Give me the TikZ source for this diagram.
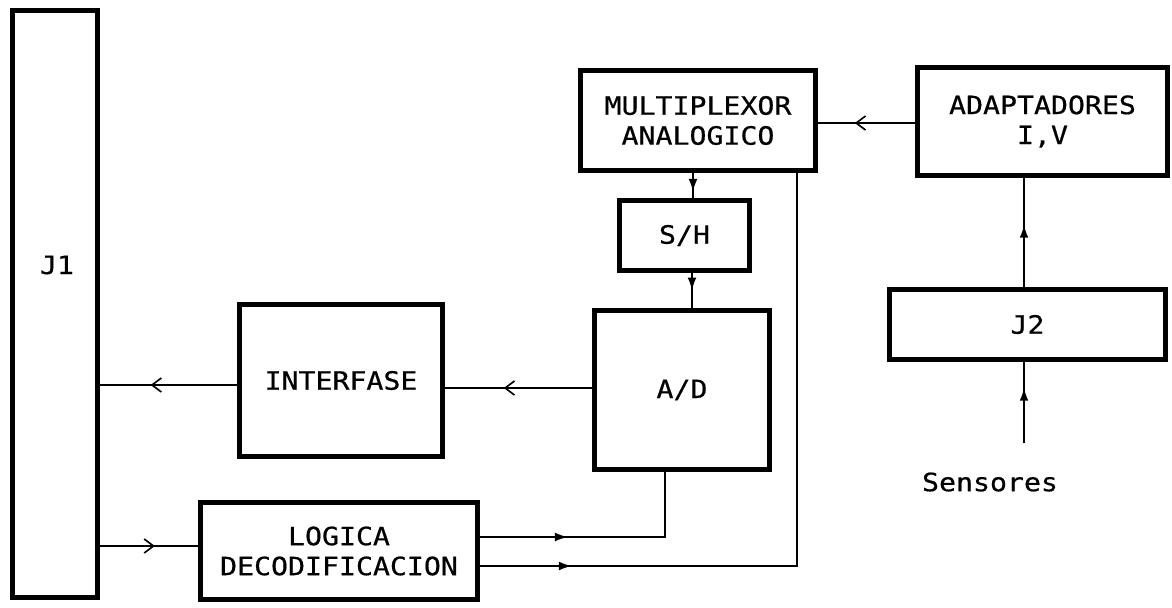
\documentclass[tikz,border=0pt]{standalone}
\usepackage{fontspec}
\newfontfamily\plotfont[FakeStretch=1.12, FakeBold=0.6]{DejaVu Sans Mono}
\usetikzlibrary{arrows.meta}
\usetikzlibrary{decorations.markings}

\begin{document}
\begin{tikzpicture}[x=0.03cm, y=-0.03cm,
  blk/.style={draw, line width=4pt, inner sep=0pt, align=center,
    font=\plotfont\fontsize{21.5}{25.6}\selectfont},
  lbl/.style={inner sep=0pt, font=\plotfont\fontsize{21.5}{25.6}\selectfont},
  conn/.style={line width=1.4pt},
  openmid/.style={conn, postaction={decorate, decoration={markings,
    mark=at position #1 with {\arrow{Straight Barb[length=8pt,width=12pt,line width=1.4pt]}}}}},
  fillmid/.style={conn, postaction={decorate, decoration={markings,
    mark=at position #1 with {\arrow{Latex[length=11pt,width=7.5pt]}}}}}]

\useasboundingbox (0,0) rectangle (1172,607);

% blocks
\node[blk, minimum width=2.55cm, minimum height=17.61cm] (j1) at (55,304) {};
\node[lbl] (j1txt) at (57,265) {J1};
\node[blk, minimum width=7.05cm, minimum height=3.0cm] (mux) at (698,120.5) {MULTIPLEXOR\\ANALOGICO};
\node[blk, minimum width=7.5cm, minimum height=3.24cm] (adapt) at (1042.5,121.5) {ADAPTADORES\\I,V};
\node[blk, minimum width=3.9cm, minimum height=2.1cm] (sh) at (684.5,235.5) {S/H};
\node[blk, minimum width=5.25cm, minimum height=4.77cm] (ad) at (682,390) {A/D};
\node[blk, minimum width=6.09cm, minimum height=4.56cm] (interf) at (341,380.5) {INTERFASE};
\node[blk, minimum width=8.28cm, minimum height=2.1cm] (j2) at (1027.5,324.5) {J2};
\node[blk, minimum width=8.31cm, minimum height=2.91cm] (logica) at (339,551) {LOGICA\\DECODIFICACION};
\node[lbl] (sens) at (990,482) {Sensores};
\coordinate (sin) at (1024,443);

% connections
\draw[openmid=0.62] (adapt.west |- 0,123) -- (mux.east |- 0,123);
\draw[openmid=0.63] (interf.west |- 0,385) -- (j1.east |- 0,385);
\draw[openmid=0.6] (ad.west |- 0,388) -- (interf.east |- 0,388);
\draw[openmid=0.56] (j1.east |- 0,546) -- (logica.west |- 0,546);
\draw[fillmid=2.64cm] (logica.east |- 0,537) -| (665,0 |- ad.south);
\draw[fillmid=2.76cm] (logica.east |- 0,566) -| (797,0 |- mux.south);
\draw[fillmid=0.75] (693,0 |- mux.south) -- (693,0 |- sh.north);
\draw[fillmid=0.5] (692,0 |- sh.south) -- (692,0 |- ad.north);
\draw[fillmid=0.57] (1024,0 |- j2.north) -- (1024,0 |- adapt.south);
\draw[fillmid=0.68] (sin) -- (sin |- j2.south);

\end{tikzpicture}
\end{document}
